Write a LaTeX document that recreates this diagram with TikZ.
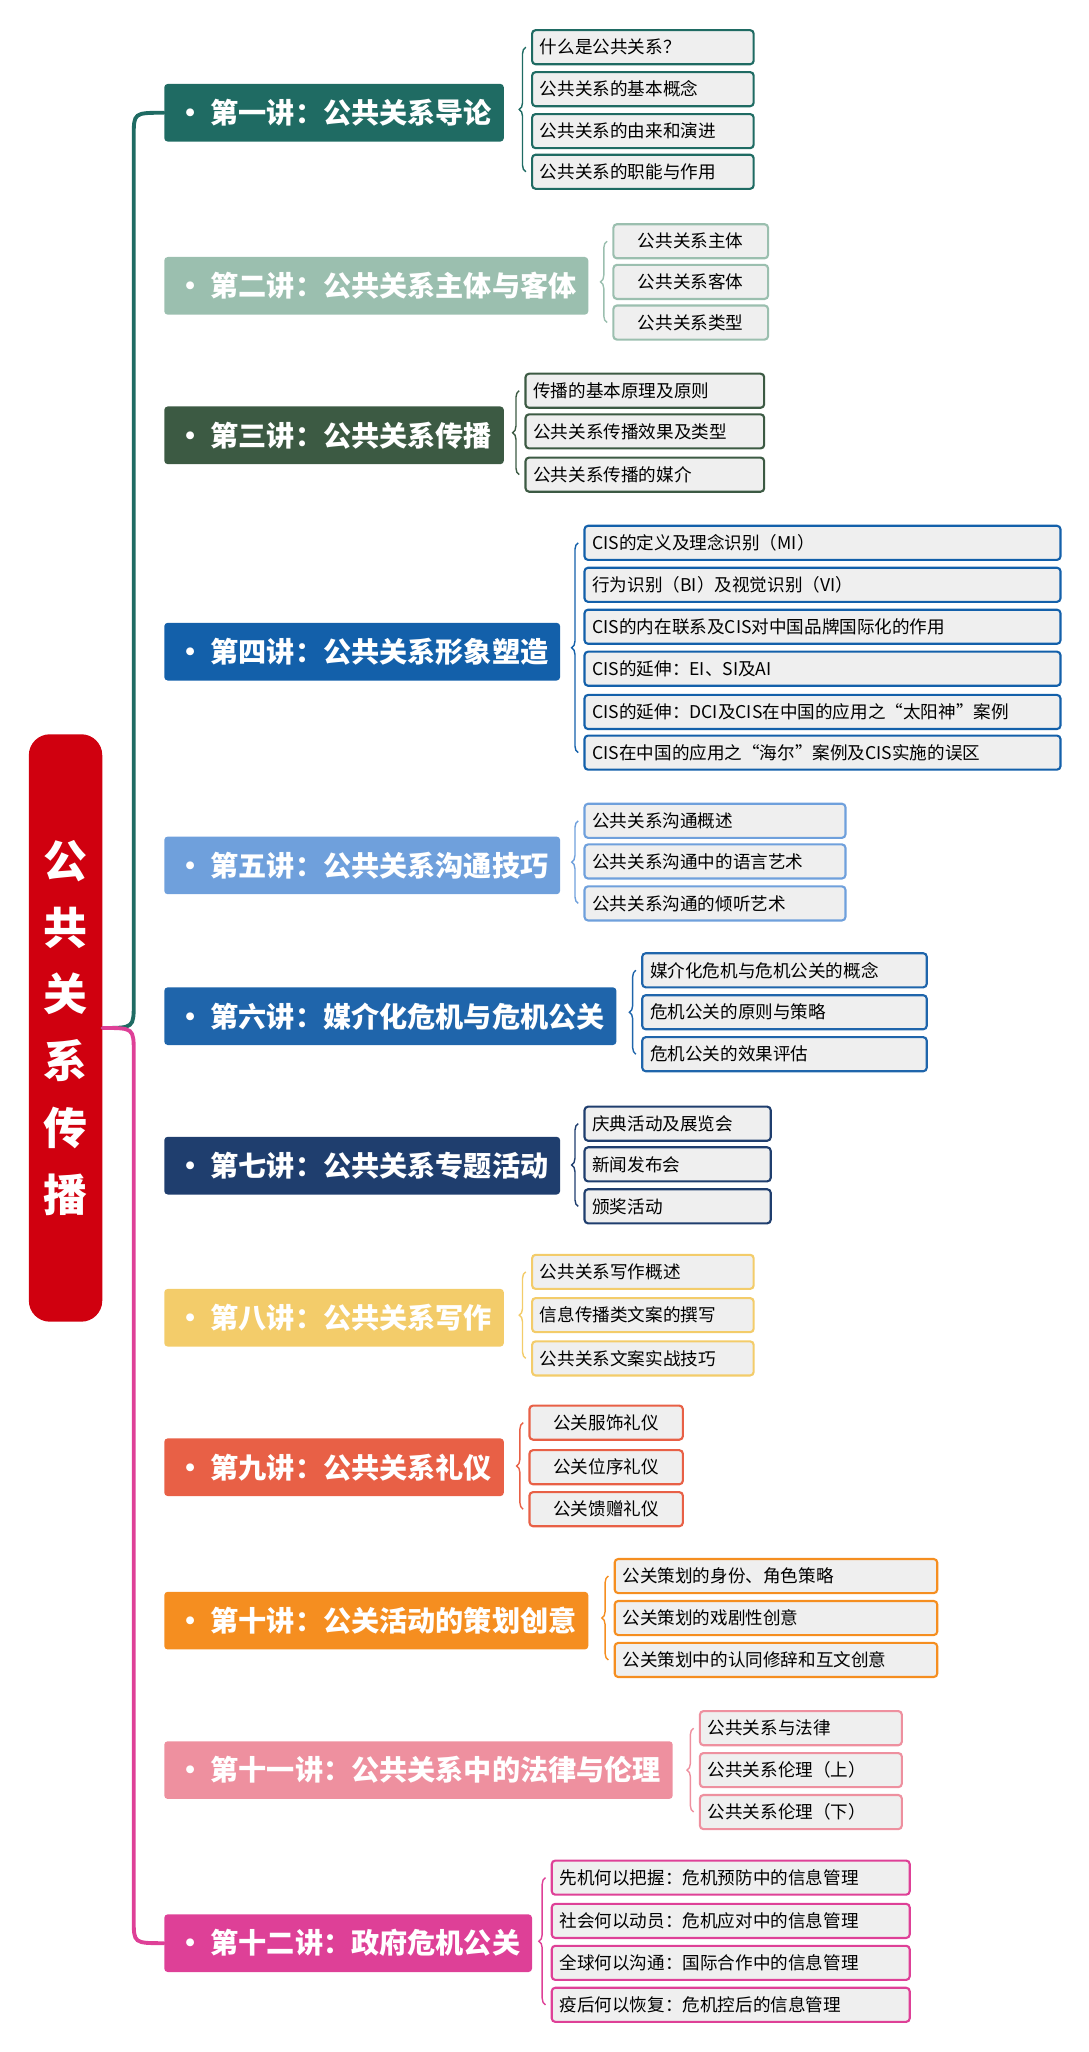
\documentclass[tikz,border=0pt]{standalone}
\usepackage{fontspec}
\setmainfont{Noto Sans CJK SC}
\usetikzlibrary{decorations.pathreplacing}
\definecolor{cRoot}{HTML}{D0000F}
\definecolor{cA}{HTML}{1F6B63}
\definecolor{cB}{HTML}{9BBFAF}
\definecolor{cC}{HTML}{3C5A43}
\definecolor{cD}{HTML}{1360AA}
\definecolor{cE}{HTML}{6FA0DC}
\definecolor{cF}{HTML}{1F65AB}
\definecolor{cG}{HTML}{1F3E6E}
\definecolor{cH}{HTML}{F3CC6A}
\definecolor{cI}{HTML}{E86046}
\definecolor{cJ}{HTML}{F58E20}
\definecolor{cK}{HTML}{EE909F}
\definecolor{cL}{HTML}{DE4097}
\definecolor{kidbg}{HTML}{EFEFEF}
\newcommand\U[1]{#1*0.0262cm}
\tikzset{
  lec/.style={fill=#1, text=white, anchor=west, rounded corners=2pt, minimum height=\U{44},
    inner xsep=\U{9}, font=\fontsize{16}{16}\selectfont\bfseries},
  kid/.style={fill=kidbg, draw=#1, line width=1.2pt, anchor=west, rounded corners=2pt,
    minimum height=\U{26}, inner xsep=\U{6}, inner ysep=0pt, align=left, font=\fontsize{10}{10}\selectfont},
  br/.style={draw=#1, line width=0.8pt, decorate, decoration={brace,amplitude=\U{5}}},
  trunk/.style={draw=#1, line width=2.2pt, line cap=round}
}
\begin{document}
\begin{tikzpicture}[x=0.0262cm,y=-0.0262cm]
\useasboundingbox (0,0) rectangle (830,1565);
\node[fill=cRoot, rounded corners=\U{16}, minimum width=\U{56}, minimum height=\U{448}, text=white,
  align=center, font=\fontsize{25}{38}\selectfont\bfseries] (root) at (50,784) {公\\共\\关\\系\\传\\播};

% chapters
\node[lec=cA] (l1) at (125,86) {· 第一讲：公共关系导论};
\node[lec=cB] (l2) at (125,218) {· 第二讲：公共关系主体与客体};
\node[lec=cC] (l3) at (125,332) {· 第三讲：公共关系传播};
\node[lec=cD] (l4) at (125,497) {· 第四讲：公共关系形象塑造};
\node[lec=cE] (l5) at (125,660) {· 第五讲：公共关系沟通技巧};
\node[lec=cF] (l6) at (125,775) {· 第六讲：媒介化危机与危机公关};
\node[lec=cG] (l7) at (125,889) {· 第七讲：公共关系专题活动};
\node[lec=cH] (l8) at (125,1005) {· 第八讲：公共关系写作};
\node[lec=cI] (l9) at (125,1119) {· 第九讲：公共关系礼仪};
\node[lec=cJ] (l10) at (125,1236) {· 第十讲：公关活动的策划创意};
\node[lec=cK] (l11) at (125,1350) {· 第十一讲：公共关系中的法律与伦理};
\node[lec=cL] (l12) at (125,1482) {· 第十二讲：政府危机公关};

% trunk
\draw[trunk=cA] (root.east) .. controls (102,784) .. (102,765) -- (102,104) .. controls (102,86) .. (l1.west);
\draw[trunk=cL] (root.east) .. controls (102,784) .. (102,803) -- (102,1464) .. controls (102,1482) .. (l12.west);

% topics
\foreach \y/\t [count=\i] in {36/什么是公共关系？,68/公共关系的基本概念,100/公共关系的由来和演进,131/公共关系的职能与作用}
  \node[kid=cA, text width=\U{157}] (k1\i) at (405,\y) {\t};
\draw[br=cA] ([xshift=-\U{4}]k14.west) -- ([xshift=-\U{4}]k11.west);
\foreach \y/\t [count=\i] in {184/公共关系主体,215/公共关系客体,246/公共关系类型}
  \node[kid=cB, text width=\U{106}, align=center] (k2\i) at (467,\y) {\t};
\draw[br=cB] ([xshift=-\U{4}]k23.west) -- ([xshift=-\U{4}]k21.west);
\foreach \y/\t [count=\i] in {298/传播的基本原理及原则,329/公共关系传播效果及类型,362/公共关系传播的媒介}
  \node[kid=cC, text width=\U{170}] (k3\i) at (400,\y) {\t};
\draw[br=cC] ([xshift=-\U{4}]k33.west) -- ([xshift=-\U{4}]k31.west);
\foreach \y/\t [count=\i] in {414/CIS的定义及理念识别（MI）,446/行为识别（BI）及视觉识别（VI）,478/CIS的内在联系及CIS对中国品牌国际化的作用,510/CIS的延伸：EI、SI及AI,543/CIS的延伸：DCI及CIS在中国的应用之“太阳神”案例,574/CIS在中国的应用之“海尔”案例及CIS实施的误区}
  \node[kid=cD, text width=\U{351}] (k4\i) at (445,\y) {\t};
\draw[br=cD] ([xshift=-\U{4}]k46.west) -- ([xshift=-\U{4}]k41.west);
\foreach \y/\t [count=\i] in {626/公共关系沟通概述,657/公共关系沟通中的语言艺术,689/公共关系沟通的倾听艺术}
  \node[kid=cE, text width=\U{187}] (k5\i) at (445,\y) {\t};
\draw[br=cE] ([xshift=-\U{4}]k53.west) -- ([xshift=-\U{4}]k51.west);
\foreach \y/\t [count=\i] in {740/媒介化危机与危机公关的概念,772/危机公关的原则与策略,804/危机公关的效果评估}
  \node[kid=cF, text width=\U{205}] (k6\i) at (489,\y) {\t};
\draw[br=cF] ([xshift=-\U{4}]k63.west) -- ([xshift=-\U{4}]k61.west);
\foreach \y/\t [count=\i] in {857/庆典活动及展览会,888/新闻发布会,920/颁奖活动}
  \node[kid=cG, text width=\U{130}] (k7\i) at (445,\y) {\t};
\draw[br=cG] ([xshift=-\U{4}]k73.west) -- ([xshift=-\U{4}]k71.west);
\foreach \y/\t [count=\i] in {970/公共关系写作概述,1003/信息传播类文案的撰写,1036/公共关系文案实战技巧}
  \node[kid=cH, text width=\U{157}] (k8\i) at (405,\y) {\t};
\draw[br=cH] ([xshift=-\U{4}]k83.west) -- ([xshift=-\U{4}]k81.west);
\foreach \y/\t [count=\i] in {1085/公关服饰礼仪,1119/公关位序礼仪,1151/公关馈赠礼仪}
  \node[kid=cI, text width=\U{105}, align=center] (k9\i) at (403,\y) {\t};
\draw[br=cI] ([xshift=-\U{4}]k93.west) -- ([xshift=-\U{4}]k91.west);
\foreach \y/\t [count=\i] in {1202/公关策划的身份、角色策略,1234/公关策划的戏剧性创意,1266/公关策划中的认同修辞和互文创意}
  \node[kid=cJ, text width=\U{234}] (k10\i) at (468,\y) {\t};
\draw[br=cJ] ([xshift=-\U{4}]k103.west) -- ([xshift=-\U{4}]k101.west);
\foreach \y/\t [count=\i] in {1318/公共关系与法律,1350/公共关系伦理（上）,1382/公共关系伦理（下）}
  \node[kid=cK, text width=\U{142}] (k11\i) at (533,\y) {\t};
\draw[br=cK] ([xshift=-\U{4}]k113.west) -- ([xshift=-\U{4}]k111.west);
\foreach \y/\t [count=\i] in {1432/先机何以把握：危机预防中的信息管理,1465/社会何以动员：危机应对中的信息管理,1497/全球何以沟通：国际合作中的信息管理,1529/疫后何以恢复：危机控后的信息管理}
  \node[kid=cL, text width=\U{261}] (k12\i) at (420,\y) {\t};
\draw[br=cL] ([xshift=-\U{4}]k124.west) -- ([xshift=-\U{4}]k121.west);
\end{tikzpicture}
\end{document}
